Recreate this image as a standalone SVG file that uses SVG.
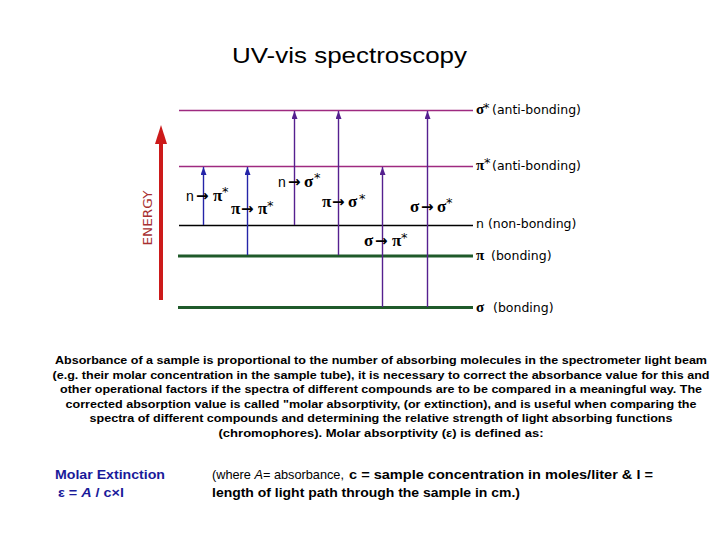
<svg xmlns="http://www.w3.org/2000/svg" width="720" height="540" viewBox="0 0 720 540">
<style>
.lvl-ab{stroke:#9e2a80;stroke-width:1.3;fill:none}
.lvl-n{stroke:#000;stroke-width:1.5;fill:none}
.lvl-b{stroke:#1f5a2a;stroke-width:3;fill:none}
.tb{stroke:#2424a8;stroke-width:1.4;fill:none}
.tp{stroke:#55208f;stroke-width:1.4;fill:none}
.gr{font-family:"Liberation Serif","DejaVu Serif",serif;font-size:17px;font-weight:bold;fill:#000}
.grb{font-family:"Liberation Serif","DejaVu Serif",serif;font-size:15px;font-weight:bold;fill:#000}
.sn{font-family:"Liberation Sans",Arial,sans-serif;font-size:14px;fill:#000}
.ar{font-family:"DejaVu Sans",sans-serif;font-size:15px;font-weight:bold;fill:#000}
.st{font-family:"DejaVu Sans",sans-serif;font-size:13px;fill:#000}
.lb{font-family:"DejaVu Sans",Verdana,sans-serif;font-size:12.5px;fill:#000}
.para{font-family:"Liberation Sans",Arial,sans-serif;font-size:11px;font-weight:bold;fill:#000;text-anchor:middle}
.bot{font-family:"Liberation Sans",Arial,sans-serif;font-size:13px;fill:#000}
.blue{font-family:"Liberation Sans",Arial,sans-serif;font-size:13px;font-weight:bold;fill:#1a1a9a}
</style>
<defs>
<marker id="hb" viewBox="0 0 8 6" refX="8" refY="3" markerWidth="8" markerHeight="6" markerUnits="userSpaceOnUse" orient="auto"><path d="M0,0 L8,3 L0,6 z" fill="#2424a8"/></marker>
<marker id="hp" viewBox="0 0 8 6" refX="8" refY="3" markerWidth="8" markerHeight="6" markerUnits="userSpaceOnUse" orient="auto"><path d="M0,0 L8,3 L0,6 z" fill="#55208f"/></marker>
</defs>
<rect width="720" height="540" fill="#fff"/>
<text x="349.5" y="63" font-family="Liberation Sans,Arial,sans-serif" font-size="22" text-anchor="middle" textLength="235" lengthAdjust="spacingAndGlyphs">UV-vis spectroscopy</text>

<g id="energy-axis">
<line x1="161" y1="300" x2="161" y2="140" stroke="#cc1a1a" stroke-width="4"/>
<path d="M161,125 L167,144 L155,144 z" fill="#cc1a1a"/>
<text transform="translate(152,218) rotate(-90)" font-family="DejaVu Sans,Verdana,sans-serif" font-size="12" fill="#a83030" text-anchor="middle" textLength="55" lengthAdjust="spacingAndGlyphs">ENERGY</text>
</g>

<g id="level-sigma-star">
<line class="lvl-ab" x1="179" y1="110.5" x2="473" y2="110.5"/>
<text class="grb" x="476" y="114">σ</text><text class="st" x="483" y="111.5">*</text><text class="lb" x="492" y="114">(anti-bonding)</text>
</g>
<g id="level-pi-star">
<line class="lvl-ab" x1="179" y1="166.5" x2="473" y2="166.5"/>
<text class="grb" x="476" y="170">π</text><text class="st" x="484" y="167">*</text><text class="lb" x="492" y="170">(anti-bonding)</text>
</g>
<g id="level-n">
<line class="lvl-n" x1="179" y1="225.5" x2="473" y2="225.5"/>
<text class="lb" x="476" y="228">n (non-bonding)</text>
</g>
<g id="level-pi">
<line class="lvl-b" x1="178" y1="256" x2="473" y2="256"/>
<text class="grb" x="476" y="260">π</text><text class="lb" x="491" y="260">(bonding)</text>
</g>
<g id="level-sigma">
<line class="lvl-b" x1="178" y1="307.5" x2="473" y2="307.5"/>
<text class="grb" x="476" y="312">σ</text><text class="lb" x="493" y="312">(bonding)</text>
</g>

<g id="connectors">
<line class="tb" x1="203.5" y1="225" x2="203.5" y2="167" marker-end="url(#hb)"/>
<line class="tb" x1="247.5" y1="255" x2="247.5" y2="167" marker-end="url(#hb)"/>
<line class="tp" x1="294.5" y1="225" x2="294.5" y2="111" marker-end="url(#hp)"/>
<line class="tp" x1="338.5" y1="255" x2="338.5" y2="111" marker-end="url(#hp)"/>
<line class="tp" x1="382.5" y1="307" x2="382.5" y2="167" marker-end="url(#hp)"/>
<line class="tp" x1="427.5" y1="307" x2="427.5" y2="111" marker-end="url(#hp)"/>
</g>

<g id="transition-labels">
<text class="sn" x="186" y="201">n</text><text class="ar" x="196" y="201">→</text><text class="gr" x="213" y="201">π</text><text class="st" x="222" y="196">*</text>
<text class="gr" x="231" y="214">π</text><text class="ar" x="241" y="214">→</text><text class="gr" x="258" y="214">π</text><text class="st" x="267" y="210">*</text>
<text class="sn" x="278" y="187">n</text><text class="ar" x="288" y="187">→</text><text class="gr" x="304" y="187">σ</text><text class="st" x="314" y="182">*</text>
<text class="gr" x="322" y="207">π</text><text class="ar" x="332" y="207">→</text><text class="gr" x="348" y="207">σ</text><text class="st" x="359" y="203">*</text>
<text class="gr" x="364" y="246">σ</text><text class="ar" x="375" y="246">→</text><text class="gr" x="392" y="246">π</text><text class="st" x="401" y="242">*</text>
<text class="gr" x="410" y="212">σ</text><text class="ar" x="421" y="212">→</text><text class="gr" x="437" y="212">σ</text><text class="st" x="446" y="207">*</text>
</g>

<g id="paragraph">
<text class="para" x="381" y="364" textLength="652" lengthAdjust="spacingAndGlyphs">Absorbance of a sample is proportional to the number of absorbing molecules in the spectrometer light beam</text>
<text class="para" x="381" y="379" textLength="657" lengthAdjust="spacingAndGlyphs">(e.g. their molar concentration in the sample tube), it is necessary to correct the absorbance value for this and</text>
<text class="para" x="381" y="393" textLength="642" lengthAdjust="spacingAndGlyphs">other operational factors if the spectra of different compounds are to be compared in a meaningful way. The</text>
<text class="para" x="381" y="408" textLength="631" lengthAdjust="spacingAndGlyphs">corrected absorption value is called "molar absorptivity, (or extinction), and is useful when comparing the</text>
<text class="para" x="381" y="422" textLength="583" lengthAdjust="spacingAndGlyphs">spectra of different compounds and determining the relative strength of light absorbing functions</text>
<text class="para" x="381" y="437" textLength="325" lengthAdjust="spacingAndGlyphs">(chromophores). Molar absorptivity (ε) is defined as:</text>
</g>

<g id="formula">
<text class="blue" x="55" y="479" textLength="110" lengthAdjust="spacingAndGlyphs">Molar Extinction</text>
<text class="blue" x="58" y="497" textLength="66" lengthAdjust="spacingAndGlyphs">ε = <tspan font-style="italic">A</tspan> / c×l</text>
<text class="bot" x="212" y="479" textLength="132" lengthAdjust="spacingAndGlyphs">(where <tspan font-style="italic">A</tspan>= absorbance,</text>
<text class="bot" x="349" y="479" font-weight="bold" textLength="304" lengthAdjust="spacingAndGlyphs">c = sample concentration in moles/liter &amp; l =</text>
<text class="bot" x="212" y="497" font-weight="bold" textLength="308" lengthAdjust="spacingAndGlyphs">length of light path through the sample in cm.)</text>
</g>
</svg>
